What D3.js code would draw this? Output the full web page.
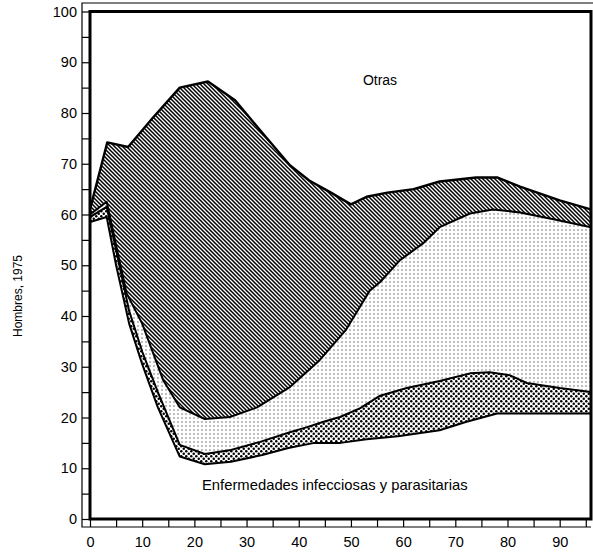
<!DOCTYPE html>
<html>
<head>
<meta charset="utf-8">
<script src="https://cdn.jsdelivr.net/npm/d3@7"></script>
<style>
  body { margin: 0; background: #fff; }
  svg { display: block; font-family: "Liberation Sans", Arial, sans-serif; }
</style>
</head>
<body>
<svg id="chart" width="593" height="552"></svg>
<script>
// cumulative boundaries [age, percent], bottom to top
const bordeInfecciosas = [[0,58.5],[3.2,59.5],[5,50],[7.5,38.5],[10,30.5],[13,22],[17.2,12.3],[22,10.8],[27,11.3],[33,12.6],[38,14],[43,15],[48,15],[53,15.7],[59,16.3],[67,17.5],[72,19.1],[78,20.8],[96,20.8]];
const bordeBanda2 = [[0,59.5],[3.2,61.5],[5,53],[7.5,41],[10,33],[13,25],[17.2,14.6],[22,12.8],[27,13.6],[32.6,15.2],[38.3,17.1],[41.6,18.1],[44.6,19.1],[47.9,20.1],[51.7,21.8],[55.6,24.3],[60.7,25.8],[67,27.2],[72.8,28.7],[76.6,28.9],[80.5,28.3],[83.7,26.8],[90,25.8],[96,25]];
const bordeBanda3 = [[0,60],[3.2,62.5],[7,44.5],[10,38.5],[14,27.4],[17.2,22],[22,19.7],[26.8,20.1],[32,22],[38.3,26],[44,31.3],[49,37.2],[53.6,45],[55.6,46.7],[59.4,51],[63.8,54.3],[67,57.5],[72.8,60.2],[77.2,61],[82.4,60.4],[89.5,58.9],[96,57.5]];
const bordeBanda4 = [[0,61],[3.3,74.2],[7.3,73.3],[12,79],[17.2,85],[22.6,86.2],[27.8,82.5],[32.6,76.6],[38.3,69.7],[42,66.7],[46,64.4],[50,62],[53,63.5],[57,64.3],[62,65],[67,66.5],[74,67.3],[78,67.3],[82.4,65.5],[90,62.8],[96,61]];

const xTicks = [0, 10, 20, 30, 40, 50, 60, 70, 80, 90];
const yTicks = [0, 10, 20, 30, 40, 50, 60, 70, 80, 90, 100];
const minorX = d3.range(0, 96, 5);
const minorY = d3.range(0, 101, 5);

const svg = d3.select('#chart');
const mLeft = 90, mRight = 591, mTop = 11.5, mBottom = 519;

const x = d3.scaleLinear().domain([0, 96]).range([mLeft, mRight]);
const y = d3.scaleLinear().domain([0, 100]).range([mBottom, mTop]);

// patterns
const defs = svg.append('defs');
const hatch = defs.append('pattern')
  .attr('id', 'hatch').attr('patternUnits', 'userSpaceOnUse')
  .attr('width', 4).attr('height', 4);
hatch.append('rect').attr('width', 4).attr('height', 4).attr('fill', '#fff');
hatch.append('path')
  .attr('d', 'M-1,-1L5,5M-1,3L1,5M3,-1L5,1')
  .attr('stroke', '#000').attr('stroke-width', 1.5);

const dense = defs.append('pattern')
  .attr('id', 'dense').attr('patternUnits', 'userSpaceOnUse')
  .attr('width', 5).attr('height', 5);
dense.append('rect').attr('width', 5).attr('height', 5).attr('fill', '#fff');
dense.append('circle').attr('cx', 1.25).attr('cy', 1.25).attr('r', 1.25).attr('fill', '#000');
dense.append('circle').attr('cx', 3.75).attr('cy', 3.75).attr('r', 1.25).attr('fill', '#000');

const sparse = defs.append('pattern')
  .attr('id', 'sparse').attr('patternUnits', 'userSpaceOnUse')
  .attr('width', 4).attr('height', 4);
sparse.append('rect').attr('width', 4).attr('height', 4).attr('fill', '#fff');
sparse.append('rect').attr('x', 1.5).attr('y', 1.5).attr('width', 1).attr('height', 1).attr('fill', '#000');

defs.append('clipPath').attr('id', 'plot')
  .append('rect').attr('x', mLeft).attr('y', mTop).attr('width', mRight - mLeft).attr('height', mBottom - mTop);

const area = d3.area().x(d => x(d[0])).y0(y(0)).y1(d => y(d[1]));
const line = d3.line().x(d => x(d[0])).y(d => y(d[1]));

const g = svg.append('g').attr('clip-path', 'url(#plot)');
g.append('path').datum(bordeBanda4).attr('d', area).attr('fill', 'url(#hatch)');
g.append('path').datum(bordeBanda3).attr('d', area).attr('fill', 'url(#sparse)');
g.append('path').datum(bordeBanda2).attr('d', area).attr('fill', 'url(#dense)');
g.append('path').datum(bordeInfecciosas).attr('d', area).attr('fill', '#fff');

[bordeInfecciosas, bordeBanda2, bordeBanda3, bordeBanda4].forEach((b, i) => {
  g.append('path').datum(b).attr('d', line)
    .attr('fill', 'none').attr('stroke', '#000')
    .attr('stroke-width', i === 3 ? 2.4 : 2).attr('stroke-linejoin', 'round');
});

// axes (ruler style)
const yAxis = d3.axisLeft(y).tickValues(minorY).tickSize(8).tickPadding(5)
  .tickFormat(d => yTicks.includes(d) ? d : '');
const xAxis = d3.axisBottom(x).tickValues(minorX).tickSize(8).tickPadding(10)
  .tickFormat(d => xTicks.includes(d) ? d : '');

const ya = svg.append('g').attr('transform', `translate(${mLeft},0)`).call(yAxis);
const xa = svg.append('g').attr('transform', `translate(0,${mBottom})`).call(xAxis);
[ya, xa].forEach(a => {
  a.select('.domain').remove();
  a.selectAll('line').attr('stroke', '#000').attr('stroke-width', 1.2);
  a.selectAll('text').attr('fill', '#000').style('font-size', '14.5px')
    .style('font-family', '"Liberation Sans", Arial, sans-serif');
});

// frame
svg.append('path')
  .attr('d', `M593,3H82V527H${mRight}`)
  .attr('fill', 'none').attr('stroke', '#000').attr('stroke-width', 1.2);
svg.append('rect')
  .attr('x', mLeft).attr('y', mTop).attr('width', mRight - mLeft).attr('height', mBottom - mTop)
  .attr('fill', 'none').attr('stroke', '#000').attr('stroke-width', 3);

// labels
svg.append('text').attr('x', 380).attr('y', 85).attr('text-anchor', 'middle')
  .style('font-size', '14px').text('Otras');
svg.append('text').attr('x', 202).attr('y', 490)
  .style('font-size', '14.8px').text('Enfermedades infecciosas y parasitarias');
svg.append('text').attr('transform', 'translate(22,296) rotate(-90)')
  .attr('text-anchor', 'middle').style('font-size', '12px').text('Hombres, 1975');
</script>
</body>
</html>
